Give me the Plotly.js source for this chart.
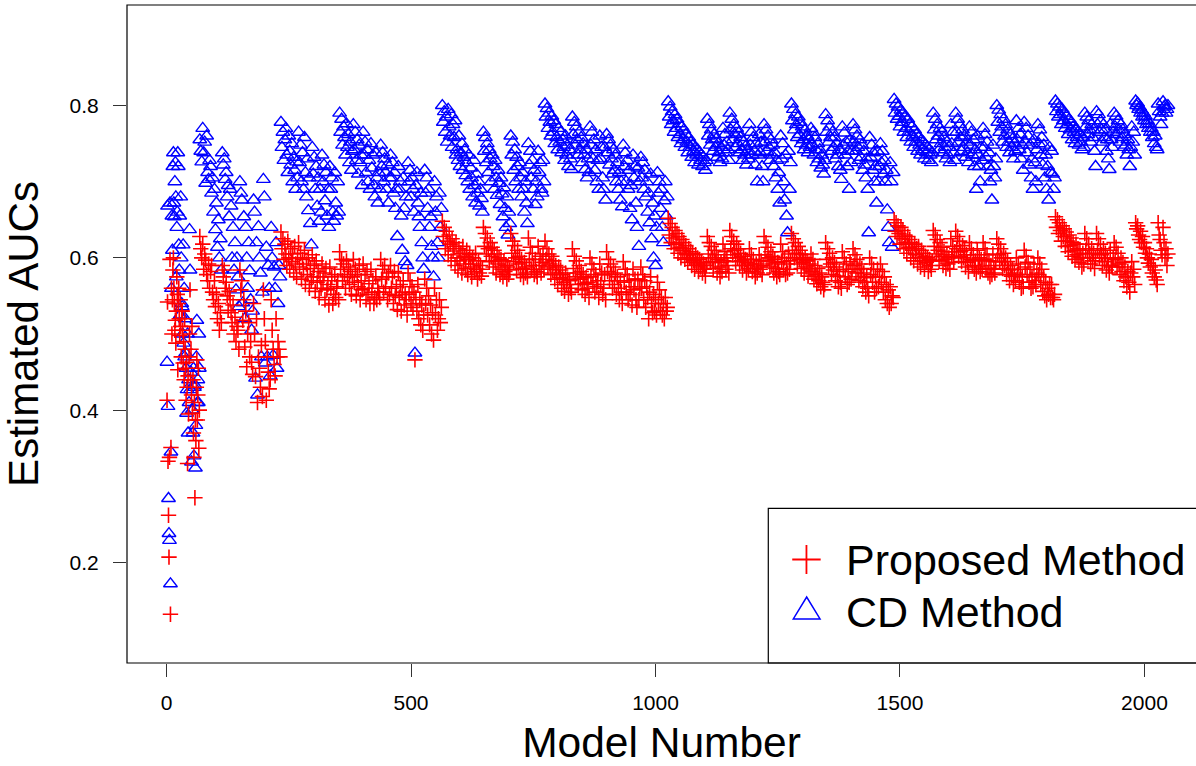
<!DOCTYPE html>
<html>
<head>
<meta charset="utf-8">
<script src="https://cdn.plot.ly/plotly-3.0.1.min.js"></script>
<style>html,body{margin:0;padding:0;background:#fff;}#chart{width:1196px;height:766px;}</style>
</head>
<body>
<div id="chart"></div>
<script>
// Models are ordered by number of covariates (blocks k = 0..11).
// Each block: first model number and the step between the models listed.
var blockFirst = [1, 68, 234, 564, 1026, 1488, 1818, 1982, 2038];
var blockStep  = [1, 2, 2, 2, 2, 2, 2, 2, 2];

// ---- Proposed Method AUCs ----
var prop_k0_2 = [.413,.542,.333,.262,.207,.338,.598,.132,.351,.560,.500,.545,
 .584,.600,.560,.540,.505,.518,.488,.530,.575,.552, .453,.540,.560,.520,.498,.545,.510,.470,.530,
 .530,.505,.462,.490,.440,.520,.480,.455, .413,.463,.430,.330,.445,.395,.470, .500,.558,.440,.480,.420,.510,
 .396,.440,.370,.338,.410, .285,.387,.360,.430, .466,.387,.420, .455,.350, .400];
var prop_k3 = [.628,.612,.600,.618,.585,.605,.597,.578,.570,.592,.560,.582,.590,.555,.545,.570,.536,.552,.520,.540,.505,.528,.515,
 .590,.575,.584,.560,.568,.550,.531,.556,.545,.528,.515,.538,.500,.522,.490,.510,.505,.480,
 .584,.558,.570,.518,.545,.483,.530,.457,.500,.515,.470,.490,.463,.447,
 .540,.500,.444,.520,.410,.470,.455,.430,.485,.418,
 .558,.520,.490,.413,.470,.450,.428,.440,
 .545,.505,.480,.460,.445, .520,.470,.490, .480, .470];
var prop_k4 = [.634,.612,.625,.598,.618,.605,.590,.622,.600,.585,.612,.595,.605,.580,.615,.592,.575,.600,
 .620,.588,.606,.572,.598,.585,.610,.565,.592,.578,.600,.560,.586,.570,
 .604,.575,.590,.556,.596,.568,.582,.548,.575,.560,
 .592,.570,.580,.545,.586,.558,.565,.538, .588,.560,.575,.540,.552, .578,.548,.562, .570,.545,
 .608,.585,.598,.570,.592,.578,.560,.596,.575,.588,.565,.582,.552,.575,
 .598,.568,.585,.550,.578,.562,.590,.545,.570,.558,
 .592,.560,.578,.545,.582,.552,.566,.540, .585,.555,.570,.540,.548, .575,.545,.560, .555, .548,
 .598,.572,.585,.555,.590,.562,.575,.545,.580,.552,
 .590,.560,.575,.540,.582,.550,.562,.532, .580,.548,.565,.530,.555, .570,.538,.552, .545, .525,
 .580,.552,.570,.540,.562,.535,.555,.466,.548,.530,.565,.520,.545,.512,.538,.505,.525,
 .572,.540,.560,.525,.550,.512,.538,.500,.528,.492,
 .560,.525,.545,.505,.520, .545,.515, .535];
var prop_k5 = [.648,.628,.640,.612,.635,.622,.604,.630,.618,.596,.625,.609,.615,.590,.620,.600,.584,.612,.596,.606,
 .580,.615,.592,.602,.586,.610,.578,.598,.604,.588,.575,.600,.592,.582,.606,.585,.572,.596,.580,.590,.576,.585,
 .640,.615,.632,.605,.626,.612,.595,.620,.602,.614,.588,.610,.596,.580,.605,.592,.600,.578,.598,.585,
 .575,.596,.582,.590,.572,.588,.578,.584,
 .632,.606,.622,.595,.616,.600,.585,.610,.592,.602,.578,.598,.586,.574,.594,.580,.588,.575,
 .626,.598,.614,.585,.606,.590,.578,.598,.582,.575, .615,.590,.602,.580,.594, .605,.585,
 .622,.598,.612,.588,.605,.592,.578,.602,.585,.596,.572,.590,.580,.565,.588,.574,.584,.560,.578,.568,
 .556,.580,.565,.572,.552,.570,.560,.555,
 .612,.586,.602,.575,.596,.580,.565,.590,.572,.582,.558,.578,.566,.552,.574,.560,.568,.548,
 .600,.575,.592,.565,.585,.555,.578,.562,.570,.548, .592,.565,.580,.552,.560, .578,.545,
 .608,.582,.598,.570,.592,.578,.560,.588,.565,.580,.552,.575,.560,.545,.570,.555,.540,
 .595,.568,.585,.555,.578,.545,.570,.552,.562,.538, .585,.558,.572,.545,.535, .572,.545, .560,
 .588,.560,.578,.545,.570,.535,.562,.548,.520,.555,.575,.540,.528,.552,.530,.545,.525,
 .568,.540,.558,.530,.548,.525,.540,.520, .548,.530, .535];
var prop_k6 = [.652,.630,.645,.620,.640,.626,.612,.636,.618,.632,.606,.628,.614,.600,.624,.610,.620,.598,.616,.604,
 .594,.612,.600,.608,.590,.606,.596,.585,.604,.592,.600,.582,.598,.588,.594,.580,.592,.585,.576,.590,
 .628,.605,.620,.595,.615,.600,.586,.610,.594,.604,.580,.598,.588,.575,.594,.582,
 .618,.596,.608,.585,.600,.590,.580,
 .636,.612,.628,.604,.622,.610,.595,.618,.600,.612,.590,.606,.596,.584,.602,.590,.598,.580,.594,.586,
 .612,.592,.604,.582,.598,.586,.575,.592,.580,.588, .604,.585,.596,.578,.590,
 .628,.604,.620,.596,.614,.600,.588,.608,.592,.602,.580,.598,.586,.575,.594,.582,.578,
 .618,.595,.608,.585,.600,.578,.592,.580, .605,.585, .596,
 .632,.610,.625,.600,.620,.606,.592,.615,.598,.610,.586,.604,.594,.580,.600,.588,.596,.576,.592,.584,
 .605,.582,.598,.572,.590,.578,.566,.586,.570,.580,.562,.575,.568,.558,.565,
 .620,.598,.612,.588,.606,.592,.578,.600,.584,.594,.570,.588,.576,.562,.582,.568,.560,
 .608,.585,.600,.575,.592,.565,.582,.568, .595,.572, .585,
 .612,.590,.604,.580,.598,.585,.570,.592,.575,.586,.562,.580,.568,.555,.574,.560,.550,
 .600,.578,.592,.568,.585,.555,.575,.560, .585,.562, .575,
 .592,.568,.582,.555,.575,.545,.565,.540,.558,.535, .562,.540,.550, .548];
var prop_k7 = [.650,.635,.646,.628,.642,.632,.618,.640,.625,.636,.612,.630,.620,.606,.628,.614,.624,.600,.620,.610,
 .596,.618,.604,.612,.592,.615,.600,.588,.610,.596,.606,.585,.602,.594,.600,.582,.598,.590,.585,.596,
 .636,.615,.630,.605,.624,.610,.596,.620,.602,.614,.590,.608,.598,.586,.604,.592,.600,.585,
 .625,.602,.615,.594,.608,
 .635,.612,.628,.602,.622,.608,.595,.616,.600,.610,.588,.604,.594,.582,
 .620,.598,.612,.590,.604,.585,.596,.580, .610,.588,.600,.582, .598,.585,
 .620,.598,.612,.586,.604,.580,.596,.575,.590,.578, .605,.585,.580, .595,
 .625,.604,.618,.595,.612,.600,.586,.606,.590,.600,.578,.595,.584,.570,.590,.576,.585,.565,.580,.570,
 .600,.578,.592,.568,.585,.560,.575,.562,
 .610,.588,.602,.578,.594,.568,.585,.560,.575,.562, .592,.570,.565, .580,
 .600,.578,.592,.565,.585,.556,.575,.550,.568,.545,.560,.552,.565,.548,
 .565,.548,.545, .552];
var prop_k8 = [.654,.640,.650,.632,.646,.636,.622,.642,.628,.638,.615,.634,.622,.608,.630,.616,.626,.602,.620,.610,
 .598,.618,.604,.612,.594,.610,.600,.588,.606,.592,
 .632,.610,.625,.600,.618,.605,.592,.612,.596,.606,.586,.600,
 .632,.610,.625,.600,.618,.604,.590,.612,.595,.606,.584,.600,.590,.580, .610,.590,.588, .600,
 .620,.598,.614,.588,.606,.592,.578,.600,.582,.594,.570,.588,.575,.562,.582,.568,.555,.580,
 .595,.575,.585,.565];
var prop_k9 = [.646,.638,.642,.630,.624,.635,.620,.628,.614,.620,.606,.612,.600,.593,.605,.588,.598,.580,.590,.575,.584,.571,.565,
 .646,.630,.624,.610, .604];
var prop_k10_11 = [.640,.620,.600,.612,.590,.605];

// ---- CD Method AUCs ----
var cd_k0_2 = [.463,.668,.405,.284,.238,.229,.672,.172,.345,.560,.655,.610,
 .720,.738,.672,.654,.700,.725,.680,.575,.640,.660, .738,.720,.617,.584,.655,.525,.680,.600,.540,
 .536,.500,.617,.488,.560,.470,.520,.475, .455,.396,.427,.500,.370,.440,.410, .637,.584,.427,.450,.332,.400,
 .400,.370,.455,.340,.430, .433,.324,.380,.470, .518,.410,.440, .410,.500, .455];
var cd_k3 = [.755,.740,.726,.770,.738,.752,.698,.760,.712,.703,.728,.720,.685,.705,.660,.690,.637,.672,.614,.650,.600,.625,.584,
 .738,.722,.730,.703,.712,.680,.695,.654,.690,.668,.600,.640,.584,.620,.558,.600,.575,.536,
 .700,.685,.676,.541,.654,.520,.640,.600,.560,.620,.583,.545,.505,.530,
 .676,.660,.442,.620,.420,.641,.600,.580,.470,.555,
 .703,.680,.462,.614,.470,.590,.560,.445,
 .640,.600,.472,.588,.560, .620,.455,.540, .590, .575];
var cd_k4 = [.778,.745,.765,.728,.755,.770,.735,.712,.760,.740,.722,.750,.700,.732,.715,.690,.726,.705,
 .765,.725,.748,.700,.738,.690,.758,.712,.680,.730,.662,.705,.645,.617,
 .745,.710,.732,.690,.720,.668,.705,.648,.690,.660,
 .735,.700,.722,.675,.712,.655,.690,.640, .720,.690,.705,.660,.648, .712,.672,.655, .700,.660,
 .790,.765,.782,.748,.772,.758,.735,.776,.745,.762,.725,.752,.715,.740,
 .775,.742,.765,.728,.755,.710,.748,.725,.735,.695,
 .765,.735,.752,.712,.742,.700,.728,.690, .750,.718,.735,.695,.680, .738,.705,.672, .712, .690,
 .748,.720,.738,.700,.730,.712,.690,.722,.672,.705,
 .735,.705,.725,.685,.712,.665,.690,.628, .720,.690,.700,.655,.610, .705,.665,.595, .680, .590,
 .725,.700,.715,.680,.705,.690,.660,.475,.695,.712,.672,.654,.640,.685,.620,.600,.585,
 .715,.685,.705,.665,.690,.640,.654,.615,.600,.575,
 .700,.660,.680,.620,.600, .685,.640, .665];
var cd_k5 = [.800,.778,.792,.765,.785,.752,.795,.772,.760,.788,.745,.775,.758,.780,.735,.742,.728,.760,.720,.738,
 .750,.715,.732,.742,.708,.725,.700,.735,.690,.718,.705,.680,.728,.695,.672,.710,.685,.700,.668,.690,.678,.660,
 .765,.740,.758,.725,.750,.712,.742,.730,.700,.735,.720,.690,.728,.705,.682,.715,.698,.670,.705,.684,
 .654,.692,.665,.640,.680,.630,.660,.645,
 .760,.735,.752,.715,.742,.700,.732,.720,.690,.725,.705,.680,.712,.690,.660,.700,.672,.645,
 .750,.722,.740,.705,.728,.690,.715,.670,.700,.680, .740,.712,.725,.690,.685, .728,.700,
 .802,.785,.796,.770,.790,.778,.760,.786,.765,.780,.750,.775,.758,.742,.770,.752,.765,.738,.755,.745,
 .728,.760,.735,.748,.720,.742,.730,.716,
 .785,.762,.778,.748,.772,.755,.735,.765,.742,.758,.725,.750,.735,.716,.742,.705,.730,.712,
 .772,.748,.765,.730,.755,.715,.742,.700,.728,.690, .760,.730,.745,.705,.690, .745,.676,
 .762,.738,.755,.722,.748,.730,.710,.742,.715,.735,.700,.725,.690,.712,.676,.700,.667,
 .748,.720,.738,.700,.728,.690,.715,.665,.695,.650, .735,.705,.720,.672,.640, .718,.615, .700,
 .732,.705,.725,.690,.715,.680,.700,.660,.685,.646,.710,.625,.672,.600,.655,.590,.640,
 .712,.685,.700,.665,.690,.640,.620,.675, .700,.655, .680];
var cd_k6 = [.805,.785,.798,.775,.792,.780,.765,.788,.770,.782,.758,.776,.762,.750,.772,.755,.768,.745,.762,.752,
 .738,.758,.745,.752,.732,.748,.740,.725,.745,.735,.742,.722,.738,.728,.735,.720,.732,.725,.715,.728,
 .782,.760,.775,.748,.768,.755,.740,.762,.745,.756,.732,.750,.738,.725,.745,.730,
 .770,.748,.762,.738,.752,.742,.728,
 .790,.768,.782,.755,.775,.762,.745,.770,.750,.764,.738,.758,.742,.728,.752,.735,.746,.722,.740,.730,
 .775,.748,.765,.735,.758,.740,.722,.750,.700,.735, .762,.738,.752,.720,.700,
 .775,.752,.768,.740,.760,.745,.728,.755,.735,.748,.720,.738,.705,.728,.690,.712,.672,
 .760,.730,.750,.700,.676,.735,.655,.633, .740,.690, .725,
 .802,.780,.795,.768,.788,.775,.758,.785,.762,.778,.750,.772,.755,.742,.768,.748,.760,.738,.755,.745,
 .770,.748,.765,.735,.758,.742,.725,.750,.730,.742,.718,.735,.722,.710,.728,
 .788,.765,.780,.752,.772,.758,.740,.765,.745,.758,.730,.750,.735,.720,.742,.715,.703,
 .772,.748,.764,.735,.752,.720,.740,.690, .755,.725, .740,
 .775,.752,.768,.740,.760,.745,.728,.755,.732,.748,.715,.740,.722,.705,.730,.690,.633,
 .758,.732,.748,.715,.738,.700,.720,.672, .740,.700, .720,
 .750,.725,.740,.710,.728,.700,.715,.663,.640,.620, .725,.700,.614, .712];
var cd_k7 = [.808,.790,.802,.782,.798,.786,.772,.794,.778,.790,.765,.785,.770,.758,.782,.765,.776,.752,.772,.760,
 .745,.768,.752,.762,.740,.758,.748,.735,.755,.742,.752,.730,.748,.738,.745,.728,.742,.735,.725,.738,
 .790,.768,.782,.755,.775,.760,.742,.770,.750,.765,.738,.758,.745,.730,.752,.735,.745,.725,
 .775,.750,.765,.738,.728,
 .790,.765,.782,.752,.775,.758,.740,.768,.745,.760,.732,.752,.738,.725,
 .772,.748,.765,.735,.755,.720,.742,.690, .760,.735,.720,.700, .745,.728,
 .770,.745,.762,.732,.752,.720,.738,.700,.715,.676, .748,.720,.705, .730,
 .800,.778,.794,.765,.788,.772,.752,.782,.760,.775,.745,.768,.752,.738,.762,.745,.756,.730,.750,.740,
 .780,.755,.770,.742,.762,.730,.748,.715,
 .778,.752,.770,.738,.760,.722,.748,.705,.730,.690, .755,.725,.700, .742,
 .775,.750,.768,.735,.758,.722,.748,.705,.735,.690,.720,.676,.745,.712,
 .740,.710,.690, .705];
var cd_k8 = [.806,.792,.802,.785,.798,.788,.775,.795,.780,.790,.770,.786,.775,.762,.782,.768,.778,.755,.772,.765,
 .750,.770,.758,.765,.748,.762,.752,.742,.758,.745,
 .790,.772,.785,.762,.780,.768,.752,.775,.758,.768,.740,.720,
 .792,.775,.788,.765,.780,.768,.752,.775,.758,.768,.740,.755,.730,.716, .775,.755,.745, .765,
 .790,.772,.786,.762,.780,.768,.752,.775,.758,.768,.745,.762,.748,.735,.755,.742,.720,.745,
 .772,.752,.765,.735];
var cd_k9 = [.806,.800,.803,.795,.798,.790,.794,.785,.790,.780,.786,.775,.780,.770,.776,.765,.770,.758,.765,.750,.760,.745,.742,
 .802,.792,.785,.775, .790];
var cd_k10_11 = [.805,.798,.800,.790,.795,.800];

var xTickVals = [0, 500, 1000, 1500, 2000];
var xTickText = ["0", "500", "1000", "1500", "2000"];
var yTickVals = [0.2, 0.4, 0.6, 0.8];
var yTickText = ["0.2", "0.4", "0.6", "0.8"];
var legendLabels = ["Proposed Method", "CD Method"];

var propBlocks = [prop_k0_2, prop_k3, prop_k4, prop_k5, prop_k6, prop_k7, prop_k8, prop_k9, prop_k10_11];
var cdBlocks   = [cd_k0_2, cd_k3, cd_k4, cd_k5, cd_k6, cd_k7, cd_k8, cd_k9, cd_k10_11];

function flatten(blocks) {
  var xs = [], ys = [];
  blocks.forEach(function (vals, b) {
    vals.forEach(function (v, i) {
      xs.push(blockFirst[b] + i * blockStep[b]);
      ys.push(v);
    });
  });
  return {x: xs, y: ys};
}
var P = flatten(propBlocks), C = flatten(cdBlocks);

var FONT = '"Liberation Sans", Arial, Helvetica, sans-serif';

var traces = [
  {type: 'scatter', mode: 'markers', name: legendLabels[1], x: C.x, y: C.y, showlegend: false,
   marker: {symbol: 'triangle-up-open', size: 12, color: '#0000FF', line: {width: 1.4, color: '#0000FF'}}},
  {type: 'scatter', mode: 'markers', name: legendLabels[0], x: P.x, y: P.y, showlegend: false,
   marker: {symbol: 'cross-thin-open', size: 11, color: '#FF0000', line: {width: 1.6, color: '#FF0000'}}}
];

var layout = {
  width: 1196, height: 766,
  margin: {l: 127, r: 0, t: 5, b: 103, pad: 0},
  paper_bgcolor: '#fff', plot_bgcolor: '#fff',
  font: {family: FONT, color: '#000'},
  showlegend: false,
  xaxis: {range: [-80.88, 2105.4], showgrid: false, zeroline: false, showline: false,
          tickvals: xTickVals, ticktext: xTickText, ticks: 'outside', ticklen: 13, tickwidth: 1, tickcolor: '#333',
          tickfont: {size: 21, family: FONT, color: '#000'}, ticklabelstandoff: 8,
          title: {text: 'Model Number', font: {size: 42.5, family: FONT, color: '#000'}, standoff: 14}},
  yaxis: {range: [0.068, 0.932], showgrid: false, zeroline: false, showline: false,
          tickvals: yTickVals, ticktext: yTickText, ticks: 'outside', ticklen: 13, tickwidth: 1, tickcolor: '#333',
          tickfont: {size: 21, family: FONT, color: '#000'}, ticklabelstandoff: 10,
          title: {text: 'Estimated AUCs', font: {size: 42, family: FONT, color: '#000'}, standoff: 26}},
  annotations: [
    {xref: 'paper', yref: 'paper', x: 0.6710, y: 0.1565, xanchor: 'left', yanchor: 'middle', showarrow: false,
     text: legendLabels[0], font: {size: 43, family: FONT, color: '#000'}},
    {xref: 'paper', yref: 'paper', x: 0.6710, y: 0.0780, xanchor: 'left', yanchor: 'middle', showarrow: false,
     text: legendLabels[1], font: {size: 43, family: FONT, color: '#000'}}
  ],
  shapes: [
    {type: 'rect', xref: 'paper', yref: 'paper', x0: 0, x1: 1.05, y0: 0, y1: 1, line: {color: '#000', width: 1.2}, fillcolor: 'rgba(0,0,0,0)'},
    {type: 'rect', xref: 'paper', yref: 'paper', x0: 0.5999, x1: 1.05, y0: 0, y1: 0.2351, line: {color: '#000', width: 1.2}, fillcolor: 'rgba(0,0,0,0)'},
    {type: 'path', xref: 'paper', yref: 'paper', path: 'M0.6223,0.1573 L0.6489,0.1573 M0.6356,0.1353 L0.6356,0.1793', line: {color: '#FF0000', width: 1.8}},
    {type: 'path', xref: 'paper', yref: 'paper', path: 'M0.6233,0.0669 L0.6483,0.0669 L0.6358,0.1003 Z', line: {color: '#0000FF', width: 1.5}, fillcolor: 'rgba(0,0,0,0)'}
  ]
};

Plotly.newPlot('chart', traces, layout, {displayModeBar: false, staticPlot: true});
</script>
</body>
</html>
